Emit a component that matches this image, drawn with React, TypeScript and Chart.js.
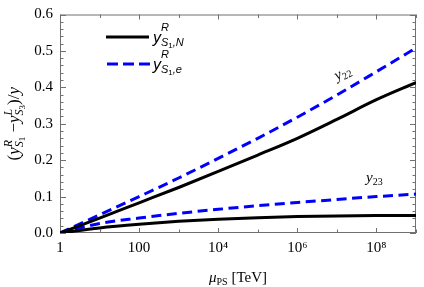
import React, { useEffect, useRef } from 'react';
import { Chart, registerables } from 'chart.js';
Chart.register(...registerables);

// x values (mu_PS in TeV)
const muPS = [1, 1e1, 1e2, 1e3, 1e4, 1e5, 1e6, 1e7, 1e8, 1e9];
// y22 curves
const y22N = [0, 0.041, 0.083, 0.125, 0.169, 0.214, 0.26, 0.312, 0.366, 0.413];
const y22e = [0, 0.05, 0.1, 0.151, 0.205, 0.26, 0.318, 0.379, 0.443, 0.508];
// y23 curves
const y23N = [0, 0.014, 0.024, 0.032, 0.038, 0.042, 0.045, 0.047, 0.048, 0.048];
const y23e = [0, 0.026, 0.041, 0.054, 0.065, 0.075, 0.084, 0.092, 0.1, 0.107];
// tick labels
const xTickLabels = ['1', '', '100', '', '10\u2074', '', '10\u2076', '', '10\u2078', ''];
const yTickLabels = ['0.0', '0.1', '0.2', '0.3', '0.4', '0.5', '0.6'];
const yMinorTicks = [0, 0.02, 0.04, 0.06, 0.08, 0.1, 0.12, 0.14, 0.16, 0.18, 0.2, 0.22, 0.24, 0.26, 0.28, 0.3, 0.32, 0.34, 0.36, 0.38, 0.4, 0.42, 0.44, 0.46, 0.48, 0.5, 0.52, 0.54, 0.56, 0.58, 0.6];

const SERIF = '"Liberation Serif", "Times New Roman", serif';
const SANS = '"Liberation Sans", Arial, sans-serif';
const BLUE = '#0000ff';
const AXIS = '#707070';

type Run = { t: string; f: string; dy?: number; back?: boolean };

function runsWidth(ctx: CanvasRenderingContext2D, runs: Run[]) {
  let w = 0;
  for (const r of runs) {
    ctx.font = r.f;
    if (!r.back) w += ctx.measureText(r.t).width;
  }
  return w;
}

function drawRuns(ctx: CanvasRenderingContext2D, x: number, y: number, runs: Run[]) {
  let cx = x;
  for (const r of runs) {
    ctx.font = r.f;
    ctx.fillText(r.t, cx, y + (r.dy || 0));
    if (!r.back) cx += ctx.measureText(r.t).width;
  }
}

function toPts(ys: number[]) {
  return muPS.map((x, i) => ({ x, y: ys[i] }));
}

const framePlugin = {
  id: 'framePlugin',
  beforeDatasetsDraw(chart: any) {
    const { ctx, chartArea: a, scales } = chart;
    const xs = scales.x;
    const ys = scales.y;
    ctx.save();
    ctx.strokeStyle = AXIS;
    ctx.lineWidth = 1;
    ctx.strokeRect(a.left + 0.5, a.top + 0.5, a.right - a.left - 1, a.bottom - a.top - 1);
    ctx.beginPath();
    yMinorTicks.forEach((v, i) => {
      const p = Math.round(ys.getPixelForValue(v)) + 0.5;
      const len = i % 5 === 0 ? 6 : 3.5;
      ctx.moveTo(a.left, p);
      ctx.lineTo(a.left + len, p);
      ctx.moveTo(a.right, p);
      ctx.lineTo(a.right - len, p);
    });
    muPS.forEach((v, i) => {
      const p = Math.round(xs.getPixelForValue(v)) + 0.5;
      const len = i % 2 === 0 ? 5 : 3.5;
      ctx.moveTo(p, a.bottom);
      ctx.lineTo(p, a.bottom - len);
      ctx.moveTo(p, a.top);
      ctx.lineTo(p, a.top + len);
    });
    ctx.stroke();
    ctx.restore();
  },
  afterDraw(chart: any) {
    const { ctx, chartArea: a } = chart;
    ctx.save();
    ctx.fillStyle = '#000';
    ctx.textBaseline = 'alphabetic';

    // Y title (rotated)
    const fM = `17px ${SERIF}`;
    const fI = `italic 17px ${SERIF}`;
    const fS = `italic 12px ${SERIF}`;
    const fSS = `9px ${SERIF}`;
    const yRuns: Run[] = [
      { t: '(', f: fM },
      { t: 'y', f: fI },
      { t: 'R', f: fS, dy: -7, back: true },
      { t: 'S', f: fS, dy: 4 },
      { t: '1', f: fSS, dy: 6 },
      { t: ' \u2212', f: fM },
      { t: 'y', f: fI },
      { t: 'L', f: fS, dy: -7, back: true },
      { t: 'S', f: fS, dy: 4 },
      { t: '3', f: fSS, dy: 6 },
      { t: ')/', f: fM },
      { t: 'y', f: fI },
    ];
    ctx.save();
    ctx.translate(19, (a.top + a.bottom) / 2);
    ctx.rotate(-Math.PI / 2);
    const yw = runsWidth(ctx, yRuns);
    drawRuns(ctx, -yw / 2, 0, yRuns);
    ctx.restore();

    // X title
    const xRuns: Run[] = [
      { t: '\u03bc', f: `italic 15px ${SERIF}` },
      { t: 'PS', f: `10px ${SERIF}`, dy: 3 },
      { t: ' [TeV]', f: `15px ${SERIF}` },
    ];
    const xw = runsWidth(ctx, xRuns);
    drawRuns(ctx, (a.left + a.right) / 2 - xw / 2, 282, xRuns);

    // Legend
    ctx.lineWidth = 3;
    ctx.strokeStyle = '#000';
    ctx.setLineDash([]);
    ctx.beginPath();
    ctx.moveTo(106, 37);
    ctx.lineTo(149, 37);
    ctx.stroke();
    ctx.strokeStyle = BLUE;
    ctx.setLineDash([11, 5]);
    ctx.beginPath();
    ctx.moveTo(107, 64);
    ctx.lineTo(150, 64);
    ctx.stroke();
    ctx.setLineDash([]);
    const lI = `italic 16px ${SANS}`;
    const lS = `italic 11px ${SANS}`;
    const lSS = `8px ${SANS}`;
    const leg = (sub: string, base: number) => {
      drawRuns(ctx, 153, base, [
        { t: 'y', f: lI },
        { t: 'R', f: lS, dy: -12, back: true },
        { t: 'S', f: lS, dy: 3 },
        { t: '1', f: lSS, dy: 5 },
        { t: ',' + sub, f: lS, dy: 3 },
      ]);
    };
    leg('N', 43);
    leg('e', 70);

    // Annotations
    ctx.save();
    ctx.translate(343, 74);
    ctx.rotate(-0.47);
    const a22: Run[] = [
      { t: 'y', f: `italic 15px ${SERIF}` },
      { t: '22', f: `10px ${SERIF}`, dy: 3 },
    ];
    const w22 = runsWidth(ctx, a22);
    drawRuns(ctx, -w22 / 2, 3, a22);
    ctx.restore();
    drawRuns(ctx, 366, 182, [
      { t: 'y', f: `italic 15px ${SERIF}` },
      { t: '23', f: `10px ${SERIF}`, dy: 3 },
    ]);
    ctx.restore();
  },
};

export default function App() {
  const ref = useRef<HTMLCanvasElement>(null);
  useEffect(() => {
    if (!ref.current) return;
    const ds = (data: number[], color: string, dashed: boolean) => ({
      data: toPts(data),
      borderColor: color,
      backgroundColor: color,
      borderWidth: 3,
      borderDash: dashed ? [10, 5.5] : [],
      pointRadius: 0,
      cubicInterpolationMode: 'monotone' as const,
      fill: false,
    });
    const chart = new Chart(ref.current, {
      type: 'line',
      data: {
        datasets: [
          ds(y22N, '#000', false),
          ds(y23N, '#000', false),
          ds(y22e, BLUE, true),
          ds(y23e, BLUE, true),
        ],
      },
      options: {
        animation: false,
        responsive: false,
        devicePixelRatio: 1,
        layout: { padding: { top: 8, right: 1, left: 0, bottom: 0 } },
        plugins: { legend: { display: false }, tooltip: { enabled: false } },
        scales: {
          x: {
            type: 'logarithmic',
            min: 1,
            max: 1e9,
            grid: { display: false, drawTicks: false },
            border: { display: false },
            afterBuildTicks: (s: any) => {
              s.ticks = muPS.map((v) => ({ value: v }));
            },
            afterFit: (s: any) => {
              s.height = 54;
            },
            ticks: {
              autoSkip: false,
              maxRotation: 0,
              padding: 8,
              color: '#000',
              font: { family: SERIF, size: 15, lineHeight: 1 },
              callback: (_v: any, i: number) => xTickLabels[i],
            },
          },
          y: {
            type: 'linear',
            min: 0,
            max: 0.6,
            grid: { display: false, drawTicks: false },
            border: { display: false },
            afterFit: (s: any) => {
              s.width = 60;
            },
            ticks: {
              stepSize: 0.1,
              padding: 7,
              color: '#000',
              font: { family: SERIF, size: 15, lineHeight: 1 },
              callback: (_v: any, i: number) => yTickLabels[i],
            },
          },
        },
      },
      plugins: [framePlugin],
    });
    return () => chart.destroy();
  }, []);
  return (
    <div style={{ position: 'fixed', left: 0, top: 0, width: 424, height: 287, background: '#fff' }}>
      <canvas ref={ref} width={424} height={287} style={{ width: 424, height: 287 }} />
    </div>
  );
}
